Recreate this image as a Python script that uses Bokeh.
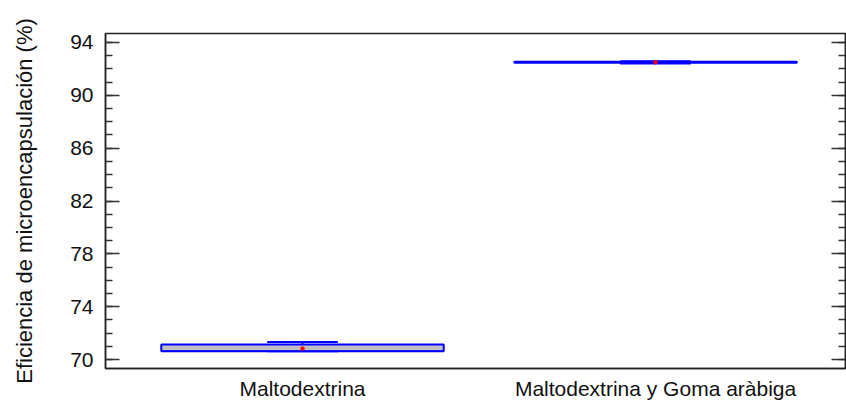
import numpy as np
from bokeh.plotting import figure
from bokeh.models import ColumnDataSource, Range1d, FixedTicker, LinearAxis
from bokeh.embed import file_html
from bokeh.resources import INLINE

# ---- data ----
categories = ["Maltodextrina", "Maltodextrina y Goma aràbiga"]
q1 = [70.62, 92.47]
q3 = [71.13, 92.54]
median = [70.62, 92.50]
lower = [70.62, 92.41]
upper = [71.33, 92.58]
mean = [70.83, 92.50]
y_ticks = [70, 74, 78, 82, 86, 90, 94]
y_minor = list(range(70, 95))

BLUE = "#0000FF"
FONT = "Liberation Sans"
AXC = "#222222"

xpos = np.arange(1, len(categories) + 1).astype(float)
box_w = 0.80
cap_w = 0.20

src = ColumnDataSource(dict(
    x=xpos, q1=q1, q3=q3, med=median, lo=lower, hi=upper, mean=mean,
    x0=xpos - box_w / 2, x1=xpos + box_w / 2,
    c0=xpos - cap_w / 2, c1=xpos + cap_w / 2,
))

p = figure(width=846, height=402, output_backend="svg", toolbar_location=None,
           x_range=Range1d(0.442, 2.538), y_range=Range1d(69.32, 94.68),
           min_border_left=105, min_border_right=1, min_border_top=33,
           min_border_bottom=33, background_fill_color="white",
           border_fill_color="white")
p.grid.visible = False
p.outline_line_color = AXC
p.outline_line_width = 1.5

# whiskers
p.segment(x0="x", y0="q3", x1="x", y1="hi", source=src, line_color=BLUE, line_width=2)
p.segment(x0="x", y0="lo", x1="x", y1="q1", source=src, line_color=BLUE, line_width=2)
# caps
p.segment(x0="c0", y0="hi", x1="c1", y1="hi", source=src, line_color=BLUE, line_width=2)
p.segment(x0="c0", y0="lo", x1="c1", y1="lo", source=src, line_color=BLUE, line_width=2)
# boxes
p.quad(left="x0", right="x1", bottom="q1", top="q3", source=src,
       fill_color="#C0C0C0", line_color=BLUE, line_width=2)
# median
p.segment(x0="x0", y0="med", x1="x1", y1="med", source=src, line_color=BLUE, line_width=1.5)
# mean
p.scatter(x="x", y="mean", source=src, marker="circle", size=3.5,
          fill_color="#FF0000", line_color="#FF0000")

# x axis
xa = p.xaxis[0]
xa.ticker = FixedTicker(ticks=list(xpos))
xa.major_label_overrides = {float(v): c for v, c in zip(xpos, categories)}
xa.major_tick_line_color = None
xa.minor_tick_line_color = None
xa.major_tick_in = 0
xa.major_tick_out = 0
xa.minor_tick_in = 0
xa.minor_tick_out = 0
xa.axis_line_color = AXC
xa.axis_line_width = 1.5
xa.major_label_text_font = FONT
xa.major_label_text_font_size = "21px"
xa.major_label_text_color = "#111111"
xa.major_label_standoff = 8

# y axis (left)
ya = p.yaxis[0]
ya.ticker = FixedTicker(ticks=y_ticks, minor_ticks=y_minor)
ya.major_tick_in = 14
ya.major_tick_out = 0
ya.minor_tick_in = 7
ya.minor_tick_out = 0
ya.major_tick_line_color = "#333333"
ya.minor_tick_line_color = "#333333"
ya.major_tick_line_width = 1.5
ya.minor_tick_line_width = 1.5
ya.axis_line_color = AXC
ya.axis_line_width = 1.5
ya.major_label_text_font = FONT
ya.major_label_text_font_size = "21px"
ya.major_label_text_color = "#111111"
ya.major_label_standoff = 12
ya.axis_label = "Eficiencia de microencapsulación (%)"
ya.axis_label_text_font = FONT
ya.axis_label_text_font_size = "22px"
ya.axis_label_text_font_style = "normal"
ya.axis_label_text_color = "#111111"
ya.axis_label_standoff = 30

# right axis (ticks only)
ra = LinearAxis(ticker=FixedTicker(ticks=y_ticks, minor_ticks=y_minor))
ra.major_tick_in = 14
ra.major_tick_out = 0
ra.minor_tick_in = 7
ra.minor_tick_out = 0
ra.major_tick_line_color = "#333333"
ra.minor_tick_line_color = "#333333"
ra.major_tick_line_width = 1.5
ra.minor_tick_line_width = 1.5
ra.axis_line_color = AXC
ra.axis_line_width = 1.5
ra.major_label_text_font_size = "0px"
ra.major_label_text_color = None
ra.major_label_standoff = 0
p.add_layout(ra, "right")

open("out.html", "w").write(file_html(p, INLINE))
